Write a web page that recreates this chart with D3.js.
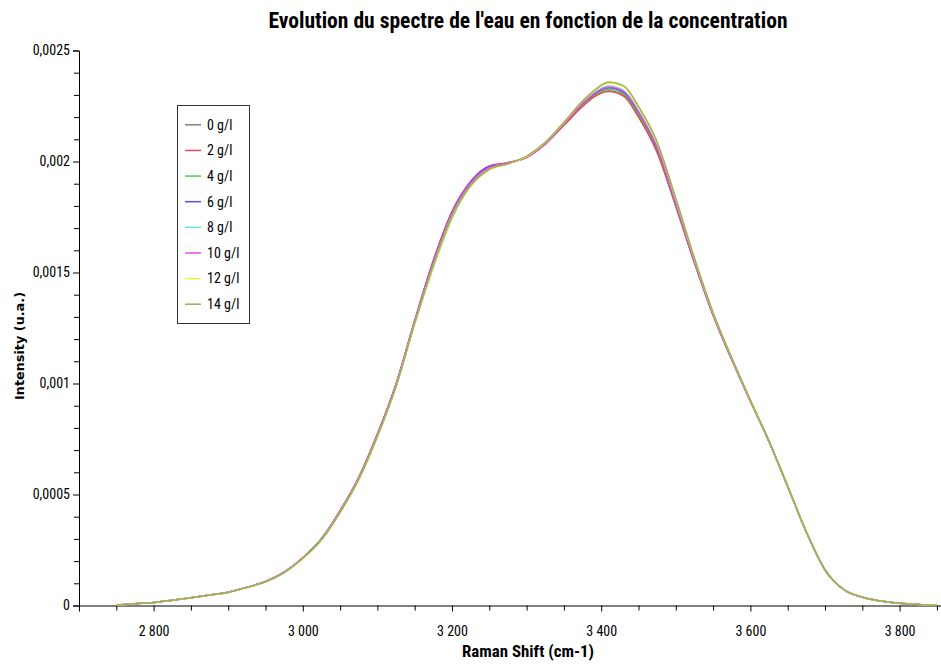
<!DOCTYPE html>
<html>
<head>
<meta charset="utf-8">
<script src="https://cdn.jsdelivr.net/npm/d3@7/dist/d3.min.js"></script>
<style>
  html, body { margin: 0; padding: 0; background: #fff; }
  svg { display: block; }
  .narrow { font-family: 'Liberation Sans Narrow', 'Arial Narrow', 'Roboto Condensed', Roboto, sans-serif; font-stretch: condensed; }
</style>
</head>
<body>
<svg id="chart" width="941" height="664"></svg>
<script>
// ---------------- DATA ----------------
const titleText = "Evolution du spectre de l'eau en fonction de la concentration";
const xTitle = "Raman Shift (cm-1)";
const yTitle = "Intensity (u.a.)";

const seriesNames = ["0 g/l", "2 g/l", "4 g/l", "6 g/l", "8 g/l", "10 g/l", "12 g/l", "14 g/l"];
const seriesColors = ["#808080", "#f04848", "#48d048", "#5050f0", "#70e0e0", "#e050e0", "#f0f040", "#a0ac5a"];

const ramanShift = [2750, 2775, 2800, 2825, 2850, 2875, 2900, 2925, 2950, 2975,
  3000, 3025, 3050, 3075, 3100, 3125, 3150, 3175, 3200, 3225,
  3250, 3275, 3300, 3325, 3350, 3375, 3390, 3410, 3430, 3450,
  3475, 3500, 3525, 3550, 3575, 3600, 3625, 3650, 3675, 3700,
  3725, 3750, 3775, 3800, 3825, 3850];

const s0 = [0.000002, 0.000008, 0.000014, 0.000024, 0.000035, 0.000047, 0.000060, 0.000082, 0.000108, 0.000150,
  0.000215, 0.000300, 0.000425, 0.000575, 0.000770, 0.000995, 0.001280, 0.001550, 0.001770, 0.001905,
  0.001975, 0.001995, 0.002020, 0.002080, 0.002165, 0.002250, 0.002292, 0.002318, 0.002298, 0.002205,
  0.002045, 0.001800, 0.001545, 0.001308, 0.001108, 0.000920, 0.000738, 0.000535, 0.000330, 0.000160,
  0.000072, 0.000037, 0.000020, 0.000010, 0.000005, 0.000002];
const s2 = [0.000002, 0.000008, 0.000014, 0.000024, 0.000035, 0.000047, 0.000060, 0.000082, 0.000108, 0.000150,
  0.000215, 0.000301, 0.000427, 0.000577, 0.000772, 0.000998, 0.001284, 0.001555, 0.001775, 0.001910,
  0.001980, 0.001995, 0.002018, 0.002078, 0.002163, 0.002248, 0.002290, 0.002315, 0.002295, 0.002200,
  0.002040, 0.001798, 0.001543, 0.001306, 0.001107, 0.000920, 0.000738, 0.000535, 0.000330, 0.000160,
  0.000072, 0.000037, 0.000020, 0.000010, 0.000005, 0.000002];
const s4 = [0.000002, 0.000008, 0.000014, 0.000024, 0.000035, 0.000047, 0.000060, 0.000082, 0.000107, 0.000148,
  0.000212, 0.000295, 0.000419, 0.000567, 0.000760, 0.000985, 0.001268, 0.001525, 0.001745, 0.001890,
  0.001965, 0.001990, 0.002022, 0.002082, 0.002170, 0.002258, 0.002298, 0.002325, 0.002305, 0.002212,
  0.002055, 0.001808, 0.001550, 0.001312, 0.001110, 0.000922, 0.000739, 0.000536, 0.000331, 0.000160,
  0.000072, 0.000037, 0.000020, 0.000010, 0.000005, 0.000002];
const s6 = [0.000002, 0.000008, 0.000014, 0.000024, 0.000035, 0.000047, 0.000060, 0.000082, 0.000108, 0.000150,
  0.000215, 0.000301, 0.000426, 0.000576, 0.000771, 0.000997, 0.001282, 0.001550, 0.001770, 0.001908,
  0.001978, 0.001992, 0.002020, 0.002080, 0.002170, 0.002260, 0.002302, 0.002332, 0.002312, 0.002220,
  0.002060, 0.001812, 0.001552, 0.001312, 0.001111, 0.000921, 0.000739, 0.000536, 0.000331, 0.000160,
  0.000072, 0.000037, 0.000020, 0.000010, 0.000005, 0.000002];
const s8 = [0.000002, 0.000008, 0.000014, 0.000024, 0.000035, 0.000047, 0.000060, 0.000082, 0.000108, 0.000149,
  0.000214, 0.000299, 0.000423, 0.000573, 0.000767, 0.000992, 0.001276, 0.001540, 0.001760, 0.001898,
  0.001970, 0.001992, 0.002022, 0.002082, 0.002172, 0.002264, 0.002308, 0.002340, 0.002320, 0.002228,
  0.002068, 0.001818, 0.001555, 0.001314, 0.001112, 0.000922, 0.000739, 0.000536, 0.000331, 0.000160,
  0.000072, 0.000037, 0.000020, 0.000010, 0.000005, 0.000002];
const s10 = [0.000002, 0.000008, 0.000014, 0.000024, 0.000035, 0.000047, 0.000060, 0.000082, 0.000108, 0.000150,
  0.000215, 0.000300, 0.000425, 0.000575, 0.000770, 0.000996, 0.001281, 0.001548, 0.001768, 0.001904,
  0.001974, 0.001994, 0.002020, 0.002080, 0.002170, 0.002262, 0.002305, 0.002336, 0.002316, 0.002224,
  0.002064, 0.001815, 0.001553, 0.001313, 0.001111, 0.000921, 0.000739, 0.000536, 0.000331, 0.000160,
  0.000072, 0.000037, 0.000020, 0.000010, 0.000005, 0.000002];
const s12 = [0.000002, 0.000008, 0.000014, 0.000024, 0.000035, 0.000047, 0.000059, 0.000081, 0.000107, 0.000148,
  0.000212, 0.000296, 0.000420, 0.000569, 0.000762, 0.000987, 0.001270, 0.001530, 0.001750, 0.001888,
  0.001962, 0.001988, 0.002022, 0.002085, 0.002175, 0.002270, 0.002315, 0.002352, 0.002336, 0.002242,
  0.002082, 0.001830, 0.001562, 0.001318, 0.001115, 0.000924, 0.000740, 0.000537, 0.000332, 0.000161,
  0.000073, 0.000038, 0.000020, 0.000010, 0.000005, 0.000002];
const s14 = [0.000002, 0.000008, 0.000014, 0.000024, 0.000035, 0.000047, 0.000059, 0.000081, 0.000107, 0.000148,
  0.000213, 0.000297, 0.000421, 0.000570, 0.000764, 0.000989, 0.001273, 0.001535, 0.001755, 0.001892,
  0.001965, 0.001990, 0.002024, 0.002086, 0.002177, 0.002272, 0.002318, 0.002358, 0.002342, 0.002248,
  0.002088, 0.001834, 0.001565, 0.001320, 0.001116, 0.000925, 0.000741, 0.000538, 0.000333, 0.000162,
  0.000073, 0.000038, 0.000020, 0.000010, 0.000005, 0.000002];

const seriesValues = [s0, s2, s4, s6, s8, s10, s12, s14];

const xTickValues = [2800, 3000, 3200, 3400, 3600, 3800];
const xTickLabels = ["2 800", "3 000", "3 200", "3 400", "3 600", "3 800"];
const yTickValues = [0, 0.0005, 0.001, 0.0015, 0.002, 0.0025];
const yTickLabels = ["0", "0,0005", "0,001", "0,0015", "0,002", "0,0025"];

// ---------------- LAYOUT ----------------
const svg = d3.select("#chart");
const plot = { left: 79, right: 941, top: 50.5, bottom: 605.5 };

const x = d3.scaleLinear().domain([2700, 3855.5]).range([plot.left, plot.right]);
const y = d3.scaleLinear().domain([0, 0.0025]).range([plot.bottom, plot.top]);

// Title
svg.append("text")
  .attr("class", "narrow")
  .attr("x", 528).attr("y", 28)
  .attr("text-anchor", "middle")
  .attr("font-size", 22).attr("font-weight", "bold")
  .attr("fill", "#000")
  .attr("textLength", 519).attr("lengthAdjust", "spacingAndGlyphs")
  .text(titleText);

// Minor ticks
const xMinor = d3.range(2700, 3851, 50).filter(v => !xTickValues.includes(v));
const yMinor = d3.range(0, 26).map(i => i * 0.0001).filter((v, i) => i % 5 !== 0);

svg.append("g")
  .attr("transform", `translate(0,${plot.bottom})`)
  .call(d3.axisBottom(x).tickValues(xMinor).tickSize(5).tickFormat(""))
  .call(g => g.select(".domain").remove())
  .call(g => g.selectAll("line").attr("stroke", "#000"));

svg.append("g")
  .attr("transform", `translate(${plot.left},0)`)
  .call(d3.axisLeft(y).tickValues(yMinor).tickSize(5).tickFormat(""))
  .call(g => g.select(".domain").remove())
  .call(g => g.selectAll("line").attr("stroke", "#000"));

// Major axes
const xAxis = svg.append("g")
  .attr("transform", `translate(0,${plot.bottom})`)
  .call(d3.axisBottom(x).tickValues(xTickValues).tickSize(6).tickSizeOuter(6)
    .tickFormat((d, i) => xTickLabels[i]));
xAxis.selectAll("text").attr("class", "narrow").attr("font-size", 14).attr("fill", "#000")
  .attr("y", 26).attr("dy", "0.35em");
xAxis.selectAll("line,path").attr("stroke", "#000");

const yAxis = svg.append("g")
  .attr("transform", `translate(${plot.left},0)`)
  .call(d3.axisLeft(y).tickValues(yTickValues).tickSize(6).tickSizeOuter(6)
    .tickFormat((d, i) => yTickLabels[i]));
yAxis.selectAll("text").attr("class", "narrow").attr("font-size", 14).attr("fill", "#000").attr("x", -9);
yAxis.selectAll("line,path").attr("stroke", "#000");

// Axis titles
svg.append("text")
  .attr("class", "narrow")
  .attr("x", 528).attr("y", 657)
  .attr("text-anchor", "middle")
  .attr("font-size", 16).attr("font-weight", "bold")
  .attr("textLength", 132).attr("lengthAdjust", "spacingAndGlyphs")
  .text(xTitle);

svg.append("text")
  .attr("transform", "translate(24,346) rotate(-90)")
  .attr("text-anchor", "middle")
  .attr("font-family", "'DejaVu Sans', Verdana, sans-serif")
  .attr("font-size", 12).attr("font-weight", "bold")
  .attr("textLength", 108).attr("lengthAdjust", "spacingAndGlyphs")
  .text(yTitle);

// Lines
const line = d3.line()
  .x((d, i) => x(ramanShift[i]))
  .y(d => y(d))
  .curve(d3.curveMonotoneX);

svg.append("g")
  .selectAll("path")
  .data(seriesValues)
  .join("path")
  .attr("d", d => line(d))
  .attr("fill", "none")
  .attr("stroke", (d, i) => seriesColors[i])
  .attr("stroke-width", 1.5);

// Legend
const legend = svg.append("g");
legend.append("rect")
  .attr("x", 177.5).attr("y", 105.5)
  .attr("width", 72).attr("height", 218)
  .attr("fill", "#fff").attr("stroke", "#333").attr("stroke-width", 1);

const rowY = d3.scaleBand().domain(seriesNames).range([112, 317]);
seriesNames.forEach((name, i) => {
  const cy = rowY(name) + rowY.bandwidth() / 2;
  legend.append("line")
    .attr("x1", 185).attr("x2", 201)
    .attr("y1", cy).attr("y2", cy)
    .attr("stroke", seriesColors[i]).attr("stroke-width", 1.5);
  legend.append("text")
    .attr("class", "narrow")
    .attr("x", 207).attr("y", cy)
    .attr("dy", "0.35em")
    .attr("font-size", 14).attr("fill", "#000")
    .text(name);
});
</script>
</body>
</html>
